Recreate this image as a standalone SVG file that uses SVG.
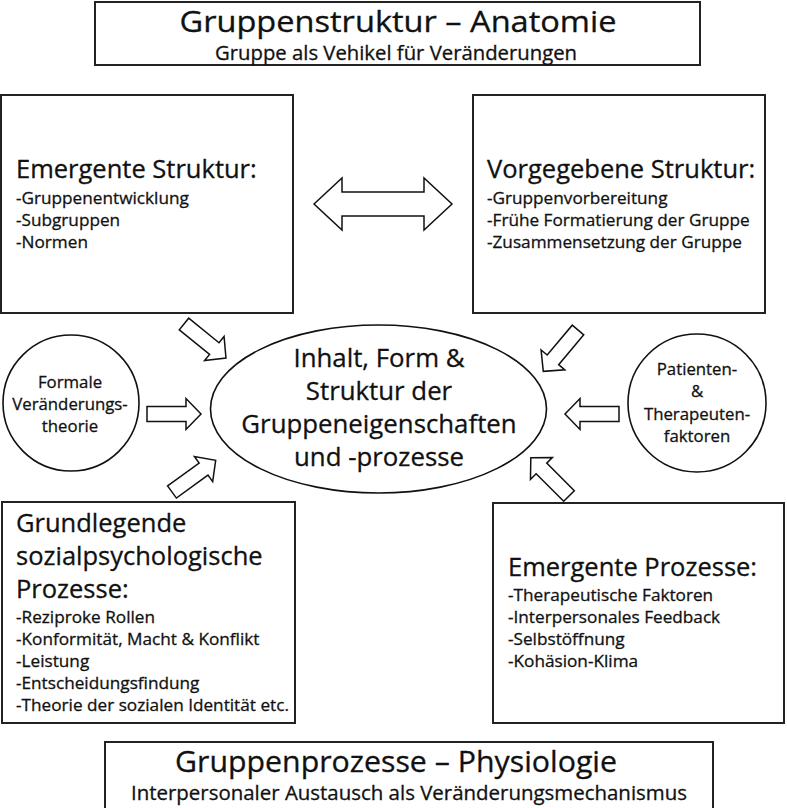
<svg xmlns="http://www.w3.org/2000/svg" xmlns:xlink="http://www.w3.org/1999/xlink" width="787" height="808" viewBox="0 0 787 808">
  <style>
    .box { fill: #fff; stroke: #222; stroke-width: 2; }
    .shape { fill: #fff; stroke: #111; stroke-width: 1.6; }
    .arr { fill: #fff; stroke: #111; stroke-width: 1.5; stroke-linejoin: miter; }
    text { font-family: "Open Sans", "Noto Sans", "DejaVu Sans", sans-serif; fill: #111; stroke: #111; stroke-width: 0.3; }
    .title { font-size: 28.5px; text-anchor: middle; }
    .sub { font-size: 19.5px; text-anchor: middle; }
    .head { font-size: 25.5px; }
    .item { font-size: 17.2px; }
    .ell { font-size: 25.8px; text-anchor: middle; }
    .circ { font-size: 16.8px; text-anchor: middle; }
  </style>
  <defs>
    <path id="blk" d="M0,-7.5 H39 V-15.5 L54,0 L39,15.5 V7.5 H0 Z"/>
  </defs>
  <rect width="787" height="808" fill="#fff" stroke="none"/>

  <g id="title-top">
    <rect class="box" x="95" y="2" width="605" height="63"/>
    <text class="title" x="398" y="31.5" textLength="437" lengthAdjust="spacingAndGlyphs">Gruppenstruktur – Anatomie</text>
    <text class="sub" x="396" y="60" textLength="362" lengthAdjust="spacingAndGlyphs">Gruppe als Vehikel für Veränderungen</text>
  </g>

  <g id="emergente-struktur">
    <rect class="box" x="1" y="95" width="292" height="218"/>
    <text class="head" x="16" y="178">Emergente Struktur:</text>
    <text class="item" x="16" y="204">-Gruppenentwicklung</text>
    <text class="item" x="16" y="226">-Subgruppen</text>
    <text class="item" x="16" y="248">-Normen</text>
  </g>

  <g id="vorgegebene-struktur">
    <rect class="box" x="473" y="95" width="292" height="218"/>
    <text class="head" x="487" y="178">Vorgegebene Struktur:</text>
    <text class="item" x="487" y="204">-Gruppenvorbereitung</text>
    <text class="item" x="487" y="226">-Frühe Formatierung der Gruppe</text>
    <text class="item" x="487" y="248">-Zusammensetzung der Gruppe</text>
  </g>

  <g id="formale-theorie">
    <circle class="shape" cx="71" cy="403" r="68"/>
    <text class="circ" x="70" y="388">Formale</text>
    <text class="circ" x="70" y="410">Veränderungs-</text>
    <text class="circ" x="70" y="432">theorie</text>
  </g>

  <g id="patienten-therapeuten">
    <circle class="shape" cx="697" cy="403" r="69"/>
    <text class="circ" x="697" y="375">Patienten-</text>
    <text class="circ" x="697" y="397">&amp;</text>
    <text class="circ" x="697" y="420">Therapeuten-</text>
    <text class="circ" x="697" y="442">faktoren</text>
  </g>

  <g id="zentrum">
    <ellipse class="shape" cx="378.5" cy="409" rx="168" ry="84"/>
    <text class="ell" x="379" y="367">Inhalt, Form &amp;</text>
    <text class="ell" x="379" y="400">Struktur der</text>
    <text class="ell" x="379" y="433">Gruppeneigenschaften</text>
    <text class="ell" x="379" y="466">und -prozesse</text>
  </g>

  <g id="grundlegende-prozesse">
    <rect class="box" x="2" y="502" width="293" height="221"/>
    <text class="head" x="16" y="532">Grundlegende</text>
    <text class="head" x="16" y="565">sozialpsychologische</text>
    <text class="head" x="16" y="598">Prozesse:</text>
    <text class="item" x="16" y="623">-Reziproke Rollen</text>
    <text class="item" x="16" y="645">-Konformität, Macht &amp; Konflikt</text>
    <text class="item" x="16" y="667">-Leistung</text>
    <text class="item" x="16" y="689">-Entscheidungsfindung</text>
    <text class="item" x="16" y="711">-Theorie der sozialen Identität etc.</text>
  </g>

  <g id="emergente-prozesse">
    <rect class="box" x="493" y="503" width="291" height="220"/>
    <text class="head" x="508" y="576">Emergente Prozesse:</text>
    <text class="item" x="508" y="601">-Therapeutische Faktoren</text>
    <text class="item" x="508" y="623">-Interpersonales Feedback</text>
    <text class="item" x="508" y="645">-Selbstöffnung</text>
    <text class="item" x="508" y="667">-Kohäsion-Klima</text>
  </g>

  <g id="title-bottom">
    <rect class="box" x="105" y="742" width="608" height="70"/>
    <text class="title" x="396" y="772" textLength="442" lengthAdjust="spacingAndGlyphs">Gruppenprozesse – Physiologie</text>
    <text class="sub" x="409" y="800" textLength="556" lengthAdjust="spacingAndGlyphs">Interpersonaler Austausch als Veränderungsmechanismus</text>
  </g>

  <g id="connectors">
    <path class="arr" d="M314,204 L342,178 V192 H424 V178 L452,204 L424,230 V216 H342 V230 Z"/>
    <use class="arr" href="#blk" xlink:href="#blk" transform="translate(184,324) rotate(39)"/>
    <use class="arr" href="#blk" xlink:href="#blk" transform="translate(147,414)"/>
    <use class="arr" href="#blk" xlink:href="#blk" transform="translate(172,492) rotate(-36)"/>
    <use class="arr" href="#blk" xlink:href="#blk" transform="translate(578,330) rotate(130)"/>
    <use class="arr" href="#blk" xlink:href="#blk" transform="translate(619,414) rotate(180)"/>
    <use class="arr" href="#blk" xlink:href="#blk" transform="translate(569,496) rotate(-135)"/>
  </g>
</svg>
